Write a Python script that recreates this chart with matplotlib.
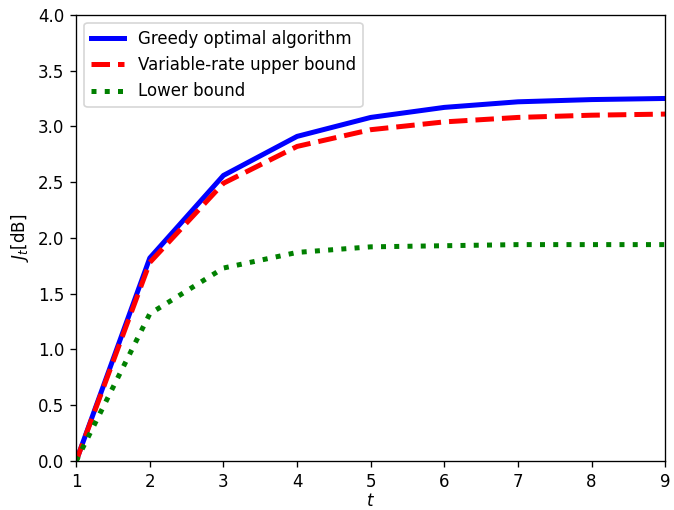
import matplotlib
matplotlib.use("Agg")
import matplotlib.pyplot as plt

t = [1, 2, 3, 4, 5, 6, 7, 8, 9]
greedy = [0.0, 1.82, 2.56, 2.91, 3.08, 3.17, 3.22, 3.24, 3.25]
upper = [0.0, 1.78, 2.49, 2.82, 2.97, 3.04, 3.08, 3.10, 3.11]
lower = [0.0, 1.32, 1.73, 1.87, 1.92, 1.93, 1.94, 1.94, 1.94]

# saved at 120 dpi -> 674x510 px
fig = plt.figure(figsize=(674 / 120, 510 / 120), dpi=120)
ax = fig.add_axes([0.113, 0.096, 0.874, 0.875])

ax.plot(t, greedy, color="blue", linewidth=3, label="Greedy optimal algorithm")
ax.plot(t, upper, color="red", linewidth=3, linestyle="--", label="Variable-rate upper bound")
ax.plot(t, lower, color="green", linewidth=3, linestyle=":", label="Lower bound")

ax.set_xlim(1, 9)
ax.set_ylim(0, 4)
ax.set_xticks(t)
ax.set_yticks([0, 0.5, 1.0, 1.5, 2.0, 2.5, 3.0, 3.5, 4.0])
ax.set_xlabel("$t$", labelpad=1)
ax.set_ylabel("$J_t$[dB]")
ax.legend(loc="upper left")

fig.savefig("out.png", dpi=120)
